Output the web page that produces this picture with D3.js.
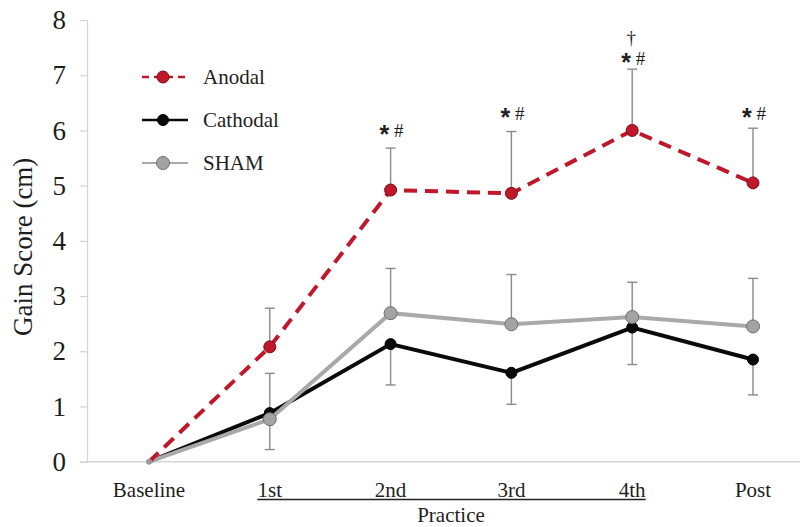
<!DOCTYPE html>
<html>
<head>
<meta charset="utf-8">
<script src="https://cdn.jsdelivr.net/npm/d3@7"></script>
<style>
  html, body { margin: 0; padding: 0; background: #fff; }
  svg { display: block; font-family: "Liberation Serif", "Times New Roman", serif; }
</style>
</head>
<body>
<svg id="chart" width="802" height="527"></svg>
<script>
// Sessions on the x axis
const sessions = ["Baseline", "1st", "2nd", "3rd", "4th", "Post"];

// Mean gain score (cm) per group
const anodal   = [0, 2.08, 4.92, 4.86, 6.00, 5.05];
const cathodal = [0, 0.88, 2.13, 1.61, 2.43, 1.85];
const sham     = [0, 0.77, 2.69, 2.49, 2.62, 2.45];

// One-sided error bars (SE): anodal & sham upward, cathodal downward
const anodalErr   = [null, 0.70, 0.76, 1.12, 1.11, 0.99];
const cathodalErr = [null, 0.66, 0.74, 0.57, 0.67, 0.64];
const shamErr     = [null, 0.83, 0.81, 0.90, 0.63, 0.87];

// Significance markers above the anodal bars
const markSessions = ["2nd", "3rd", "4th", "Post"];
const markLevels   = [5.88, 6.19, 7.19, 6.19];
const daggerSession = "4th";
const daggerLevel   = 7.57;

const yTicks = [0, 1, 2, 3, 4, 5, 6, 7, 8];
const practiceSessions = ["1st", "2nd", "3rd", "4th"];

const svg = d3.select("#chart");

const x = d3.scalePoint().domain(sessions).range([149, 753]);
const y = d3.scaleLinear().domain([0, 8]).range([461.7, 20]);

const axisColor = "#d4d4d4";
const textColor = "#1e1e1e";

// y axis
const yAxis = svg.append("g")
  .attr("transform", "translate(87,0)")
  .call(d3.axisLeft(y).tickValues(yTicks).tickSize(7).tickPadding(14).tickFormat(d3.format("d")));
yAxis.select(".domain").attr("stroke", axisColor).attr("stroke-width", 1.2);
yAxis.selectAll(".tick line").attr("stroke", axisColor).attr("stroke-width", 1.2);
yAxis.selectAll(".tick text")
  .attr("fill", textColor)
  .style("font-family", "'Liberation Serif', serif")
  .style("font-size", "27px");

// x axis baseline
svg.append("line")
  .attr("x1", 87).attr("x2", 800)
  .attr("y1", y(0)).attr("y2", y(0))
  .attr("stroke", axisColor).attr("stroke-width", 1.5);

// category labels
svg.append("g").selectAll("text")
  .data(sessions).join("text")
  .attr("x", d => x(d))
  .attr("y", 497)
  .attr("text-anchor", "middle")
  .attr("fill", textColor)
  .style("font-size", "21px")
  .text(d => d);

// bracket line under the practice sessions
const firstLabelHalf = 12.5, lastLabelHalf = 13.5;
svg.append("line")
  .attr("x1", x(practiceSessions[0]) - firstLabelHalf)
  .attr("x2", x(practiceSessions[practiceSessions.length - 1]) + lastLabelHalf)
  .attr("y1", 499.5).attr("y2", 499.5)
  .attr("stroke", "#222").attr("stroke-width", 1.6);

svg.append("text")
  .attr("x", (x("2nd") + x("3rd")) / 2)
  .attr("y", 522)
  .attr("text-anchor", "middle")
  .attr("fill", textColor)
  .style("font-size", "21px")
  .text("Practice");

// y axis title
svg.append("text")
  .attr("transform", `translate(32,${y(4) + 6}) rotate(-90)`)
  .attr("text-anchor", "middle")
  .attr("fill", textColor)
  .style("font-size", "27px")
  .text("Gain Score (cm)");

// error bars
const errColor = "#8a8a8a";
function errorBars(values, errs, dir) {
  const rows = sessions.map((s, i) => ({ s, v: values[i], e: errs[i] })).filter(d => d.e != null);
  const g = svg.append("g").attr("stroke", errColor).attr("stroke-width", 1.4);
  g.selectAll("line.v").data(rows).join("line")
    .attr("x1", d => x(d.s)).attr("x2", d => x(d.s))
    .attr("y1", d => y(d.v)).attr("y2", d => y(d.v + dir * d.e));
  g.selectAll("line.c").data(rows).join("line")
    .attr("x1", d => x(d.s) - 5).attr("x2", d => x(d.s) + 5)
    .attr("y1", d => y(d.v + dir * d.e)).attr("y2", d => y(d.v + dir * d.e));
}
errorBars(sham, shamErr, 1);
errorBars(cathodal, cathodalErr, -1);
errorBars(anodal, anodalErr, 1);

const line = d3.line().x((d, i) => x(sessions[i])).y(d => y(d));

const series = [
  { name: "Cathodal", values: cathodal, stroke: "#0a0a0a", dash: null, fill: "#0a0a0a", outline: "#000", r: 5.5 },
  { name: "SHAM", values: sham, stroke: "#a9a9a9", dash: null, fill: "#a3a3a3", outline: "#6e6e6e", r: 6.5 },
  { name: "Anodal", values: anodal, stroke: "#c0172b", dash: "13,8", fill: "#c0172b", outline: "#7a0d18", r: 6 }
];

series.forEach(s => {
  svg.append("path")
    .datum(s.values)
    .attr("d", line)
    .attr("fill", "none")
    .attr("stroke", s.stroke)
    .attr("stroke-width", 4)
    .attr("stroke-dasharray", s.dash);
  svg.append("g").selectAll("circle")
    .data(s.values.slice(1)).join("circle")
    .attr("cx", (d, i) => x(sessions[i + 1]))
    .attr("cy", d => y(d))
    .attr("r", s.r)
    .attr("fill", s.fill)
    .attr("stroke", s.outline)
    .attr("stroke-width", 1);
});

// small start marker at baseline
svg.append("circle")
  .attr("cx", x("Baseline")).attr("cy", y(0)).attr("r", 3)
  .attr("fill", "#9a9a9a");

// significance annotations
markSessions.forEach((s, i) => {
  const t = svg.append("text")
    .attr("x", x(s) + 1)
    .attr("y", y(markLevels[i]))
    .attr("text-anchor", "middle")
    .attr("fill", textColor);
  t.append("tspan")
    .style("font-family", "'Liberation Sans', sans-serif")
    .style("font-weight", "bold")
    .style("font-size", "25px")
    .attr("dy", 6)
    .text("*");
  t.append("tspan")
    .style("font-size", "19px")
    .attr("dy", -6)
    .text("\u00a0#");
});
svg.append("text")
  .attr("x", x(daggerSession) - 1)
  .attr("y", y(daggerLevel))
  .attr("text-anchor", "middle")
  .attr("fill", textColor)
  .style("font-size", "19px")
  .text("\u2020");

// legend
const legendRows = [
  { label: "Anodal", s: series[2], yPos: 77 },
  { label: "Cathodal", s: series[0], yPos: 120 },
  { label: "SHAM", s: series[1], yPos: 163 }
];
const lg = svg.append("g");
legendRows.forEach(r => {
  const isSham = r.s.name === "SHAM";
  lg.append("line")
    .attr("x1", 142).attr("x2", 188)
    .attr("y1", r.yPos).attr("y2", r.yPos)
    .attr("stroke", r.s.stroke)
    .attr("stroke-width", isSham ? 2 : 2.6)
    .attr("stroke-dasharray", r.s.dash ? "7,5" : null);
  lg.append("circle")
    .attr("cx", 163).attr("cy", r.yPos)
    .attr("r", r.s.r)
    .attr("fill", r.s.fill)
    .attr("stroke", r.s.outline)
    .attr("stroke-width", 1);
  lg.append("text")
    .attr("x", 203).attr("y", r.yPos + 7)
    .attr("fill", textColor)
    .style("font-size", "21px")
    .text(r.label);
});
</script>
</body>
</html>
